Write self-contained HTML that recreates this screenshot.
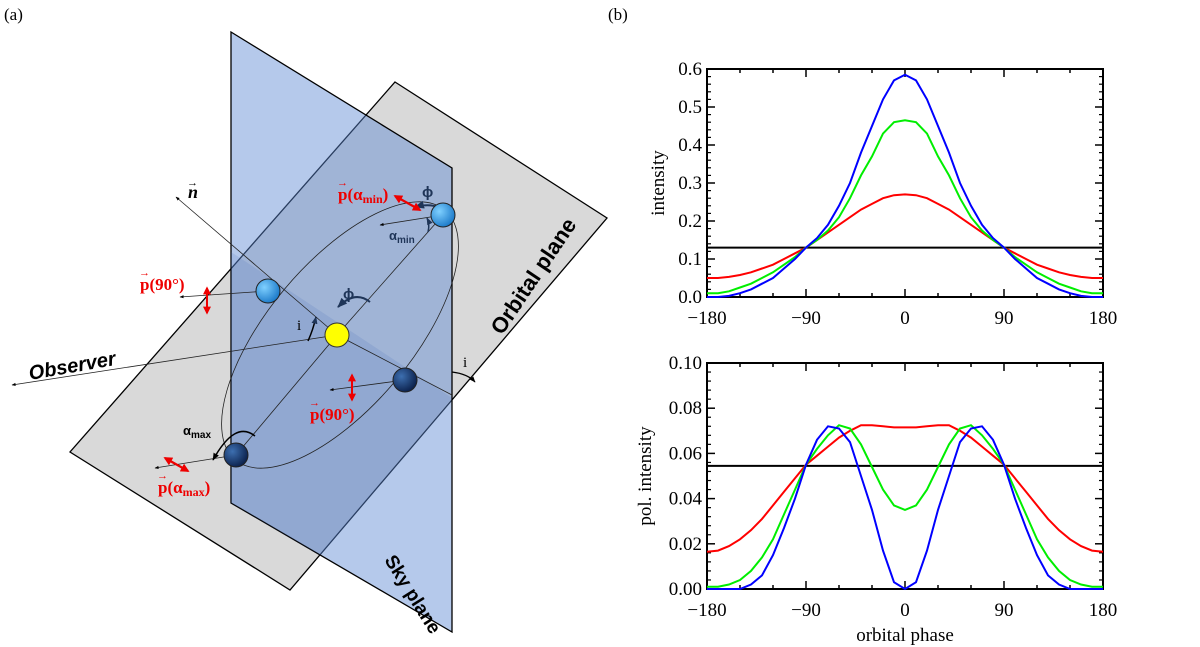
<!DOCTYPE html>
<html><head><meta charset="utf-8">
<style>
body{margin:0;background:#fff;}
svg{display:block;font-family:"Liberation Serif",serif;}
.tk{font-family:"Liberation Serif",serif;font-size:19px;fill:#000;}
</style></head>
<body>
<svg id="root" width="1200" height="647" viewBox="0 0 1200 647">
<defs>
<marker id="ah" viewBox="0 0 10 10" refX="9" refY="5" markerWidth="5" markerHeight="5" orient="auto-start-reverse"><path d="M0,1 L10,5 L0,9 z" fill="#000"/></marker>
<marker id="ahn" viewBox="0 0 10 10" refX="9" refY="5" markerWidth="5" markerHeight="5" orient="auto-start-reverse"><path d="M0,1 L10,5 L0,9 z" fill="#1f3558"/></marker>
<marker id="ahr" viewBox="0 0 10 10" refX="8" refY="5" markerWidth="4" markerHeight="4" orient="auto-start-reverse"><path d="M0,0 L10,5 L0,10 z" fill="#e00"/></marker>
<radialGradient id="lb" cx="0.35" cy="0.35" r="0.7"><stop offset="0" stop-color="#7fd0ff"/><stop offset="1" stop-color="#1a78c8"/></radialGradient>
<radialGradient id="db" cx="0.35" cy="0.35" r="0.7"><stop offset="0" stop-color="#3d6fb0"/><stop offset="1" stop-color="#0a1f4a"/></radialGradient>
</defs>
<text x="4" y="20" font-size="17">(a)</text>
<text x="608" y="20" font-size="17">(b)</text>
<g>
<polygon points="395,82 607,218 290,590 70,452" fill="#d9d9d9" stroke="#000" stroke-width="1.3"/>
<polygon points="231,32 452,168 452,632 231,503" fill="rgba(90,135,210,0.45)" stroke="#000" stroke-width="1.3"/>
<polygon points="231,252 452,398 320,555 231,503" fill="rgba(60,100,180,0.15)"/>
<ellipse cx="340" cy="335" rx="163" ry="72" transform="rotate(-50 340 335)" fill="none" stroke="#222" stroke-width="0.8"/>
<line x1="337" y1="335" x2="176" y2="197" stroke="#222" stroke-width="0.8" marker-end="url(#ah)"/>
<line x1="337" y1="335" x2="452" y2="395" stroke="#222" stroke-width="0.8"/>
<line x1="337" y1="335" x2="443" y2="215" stroke="#222" stroke-width="0.8"/>
<line x1="337" y1="335" x2="236" y2="455" stroke="#222" stroke-width="0.8"/>
<line x1="337" y1="335" x2="12" y2="385" stroke="#222" stroke-width="0.8" marker-end="url(#ah)"/>
<line x1="268" y1="291" x2="180" y2="297" stroke="#222" stroke-width="0.8" marker-end="url(#ah)"/>
<line x1="405" y1="380" x2="330" y2="390" stroke="#222" stroke-width="0.8" marker-end="url(#ah)"/>
<line x1="236" y1="455" x2="155" y2="468" stroke="#222" stroke-width="0.8" marker-end="url(#ah)"/>
<line x1="443" y1="215" x2="380" y2="225" stroke="#222" stroke-width="0.8" marker-end="url(#ah)"/>
<path d="M440,208 Q430,203 415,207" fill="none" stroke="#1f3558" stroke-width="2" marker-end="url(#ahn)"/>
<path d="M428,232 Q430,224 427,218" fill="none" stroke="#1f3558" stroke-width="1.5" marker-end="url(#ahn)"/>
<path d="M370,302 Q355,290 338,307" fill="none" stroke="#1f3558" stroke-width="2" marker-end="url(#ahn)"/>
<path d="M308,341 Q313,330 316,317" fill="none" stroke="#000" stroke-width="1.5" marker-end="url(#ahn)"/>
<path d="M255,436 Q235,420 213,460" fill="none" stroke="#000" stroke-width="1.5" marker-end="url(#ah)"/>
<path d="M452,372 Q468,374 475,382" fill="none" stroke="#000" stroke-width="1.2" marker-end="url(#ah)"/>
<line x1="395" y1="196" x2="420" y2="210" stroke="#e00" stroke-width="2.2" marker-start="url(#ahr)" marker-end="url(#ahr)"/>
<line x1="207" y1="288" x2="207" y2="313" stroke="#e00" stroke-width="2" marker-start="url(#ahr)" marker-end="url(#ahr)"/>
<line x1="352" y1="375" x2="352" y2="400" stroke="#e00" stroke-width="2" marker-start="url(#ahr)" marker-end="url(#ahr)"/>
<line x1="165" y1="458" x2="188" y2="471" stroke="#e00" stroke-width="2.2" marker-start="url(#ahr)" marker-end="url(#ahr)"/>
<circle cx="337" cy="335" r="12" fill="#ffff00" stroke="#333"/>
<circle cx="443" cy="215" r="12" fill="url(#lb)" stroke="#222"/>
<circle cx="268" cy="291" r="12" fill="url(#lb)" stroke="#222"/>
<circle cx="405" cy="380" r="12" fill="url(#db)" stroke="#222"/>
<circle cx="236" cy="455" r="12" fill="url(#db)" stroke="#222"/>
<g font-weight="bold" font-size="17" fill="#e00">
<text x="338" y="200">p(α<tspan font-size="12" dy="3">min</tspan><tspan dy="-3">)</tspan></text>
<text x="337" y="186" font-size="11">→</text>
<text x="140" y="290">p(90°)</text>
<text x="139" y="276" font-size="11">→</text>
<text x="310" y="420">p(90°)</text>
<text x="309" y="406" font-size="11">→</text>
<text x="158" y="493">p(α<tspan font-size="12" dy="3">max</tspan><tspan dy="-3">)</tspan></text>
<text x="157" y="479" font-size="11">→</text>
</g>
<g font-family="Liberation Sans,sans-serif" font-weight="bold" fill="#1f3558" font-size="15">
<text x="422" y="197">ϕ</text><text x="343" y="299">ϕ</text>
<text x="389" y="240" font-size="13">α<tspan font-size="10" dy="3">min</tspan></text>
</g>
<text x="183" y="435" font-size="13" font-family="Liberation Sans,sans-serif" font-weight="bold">α<tspan font-size="10" dy="3">max</tspan></text>
<text x="297" y="330" font-size="15">i</text><text x="463" y="367" font-size="15">i</text>
<text x="188" y="198" font-size="18" font-weight="bold" font-style="italic">n</text>
<text x="187" y="186" font-size="11">→</text>
<text x="30" y="380" font-family="Liberation Sans,sans-serif" font-weight="bold" font-style="italic" font-size="20" transform="rotate(-10 30 380)">Observer</text>
<text x="502" y="336" font-family="Liberation Sans,sans-serif" font-weight="bold" font-size="22" transform="rotate(-56 502 336)">Orbital plane</text>
<text x="384" y="560" font-family="Liberation Sans,sans-serif" font-weight="bold" font-size="19" transform="rotate(58 384 560)">Sky plane</text>
</g>
<g id="charts"></g>
</svg>
<script>
const phases=[-180,-170,-160,-150,-140,-130,-120,-110,-100,-90,-80,-70,-60,-50,-40,-30,-20,-10,0,10,20,30,40,50,60,70,80,90,100,110,120,130,140,150,160,170,180];
const intBlueHalf=[0.585,0.57,0.52,0.45,0.38,0.30,0.24,0.19,0.155,0.13,0.10,0.075,0.05,0.035,0.02,0.01,0.003,0,0];
const intGreenHalf=[0.465,0.46,0.43,0.37,0.32,0.26,0.21,0.175,0.15,0.13,0.105,0.085,0.065,0.05,0.035,0.025,0.015,0.01,0.01];
const intRedHalf=[0.27,0.268,0.26,0.245,0.23,0.21,0.19,0.17,0.15,0.13,0.115,0.10,0.085,0.075,0.065,0.058,0.053,0.05,0.05];
const polBlueHalf=[0,0.003,0.017,0.035,0.05,0.065,0.071,0.072,0.066,0.055,0.04,0.027,0.015,0.006,0.002,0,0,0,0];
const polGreenHalf=[0.035,0.037,0.044,0.054,0.064,0.071,0.0725,0.068,0.062,0.055,0.044,0.033,0.022,0.014,0.008,0.004,0.002,0.001,0.001];
const polRedHalf=[0.0715,0.0715,0.072,0.0725,0.0725,0.07,0.067,0.063,0.059,0.055,0.049,0.043,0.037,0.031,0.026,0.022,0.019,0.017,0.0165];
const intMean=[0.13];
const polMean=[0.0545];
const xTicks=[-180,-90,0,90,180];
const intTicks=[0,0.1,0.2,0.3,0.4,0.5,0.6];
const intTickLabels=["0.0","0.1","0.2","0.3","0.4","0.5","0.6"];
const polTicks=[0,0.02,0.04,0.06,0.08,0.10];
const polTickLabels=["0.00","0.02","0.04","0.06","0.08","0.10"];

function full(h){return h.slice().reverse().concat(h.slice(1));}
const NS="http://www.w3.org/2000/svg";
const g=document.getElementById('charts');
function el(t,a,p){const e=document.createElementNS(NS,t);for(const k in a)e.setAttribute(k,a[k]);(p||g).appendChild(e);return e;}
function panel(name,top,bot,ymax,ticks,labels,series,mean,ylabel,xtitle){
  const L=707,R=1103;
  const X=v=>L+(v+180)/360*(R-L);
  const Y=v=>bot-v/ymax*(bot-top);
  const pg=el('g',{});
  
  
  const box=el('rect',{x:L,y:top,width:R-L,height:bot-top,fill:'none',stroke:'#000','stroke-width':2},pg);
  
  
  for(let v=-180;v<=180;v+=30){const mj=v%90===0;const x=X(v);
    el('line',{x1:x,y1:bot,x2:x,y2:bot-(mj?8:4),stroke:'#000','stroke-width':1.5},pg);
    el('line',{x1:x,y1:top,x2:x,y2:top+(mj?8:4),stroke:'#000','stroke-width':1.5},pg);}
  xTicks.forEach(v=>{const t=el('text',{x:X(v),y:bot+27,'text-anchor':'middle',class:'tk'},pg);t.textContent=v<0?'\u2212'+(-v):String(v);
    
    });
  const step=ticks[1]-ticks[0];
  for(let i=0;i<ticks.length;i++){const y=Y(ticks[i]);
    el('line',{x1:L,y1:y,x2:L+8,y2:y,stroke:'#000','stroke-width':1.5},pg);
    el('line',{x1:R,y1:y,x2:R-8,y2:y,stroke:'#000','stroke-width':1.5},pg);
    for(let k=1;k<5&&i<ticks.length-1;k++){const ym=Y(ticks[i]+step*k/5);
      el('line',{x1:L,y1:ym,x2:L+4,y2:ym,stroke:'#000','stroke-width':1.2},pg);
      el('line',{x1:R,y1:ym,x2:R-4,y2:ym,stroke:'#000','stroke-width':1.2},pg);}
    const t=el('text',{x:L-5,y:y+6,'text-anchor':'end',class:'tk'},pg);t.textContent=labels[i];
    
    }
  const yl=el('text',{x:0,y:0,'text-anchor':'middle',class:'tk',transform:`translate(${name==='intensity-chart'?664:651},${(top+bot)/2}) rotate(-90)`},pg);
  yl.textContent=ylabel;
  
  
  if(xtitle){const xt=el('text',{x:(L+R)/2,y:bot+52,'text-anchor':'middle',class:'tk'},pg);xt.textContent=xtitle;
    
    }
  const ml=el('line',{x1:L,y1:Y(mean[0]),x2:R,y2:Y(mean[0]),stroke:'#000','stroke-width':2},pg);
  
  
  series.forEach(s=>{const vals=full(s.h);
    const d=phases.map((p,i)=>(i?'L':'M')+X(p).toFixed(1)+','+Y(vals[i]).toFixed(1)).join(' ');
    const pth=el('path',{d:d,fill:'none',stroke:s.c,'stroke-width':2},pg);
    
    });
}
panel('intensity-chart',69,297,0.6,intTicks,intTickLabels,[{h:intRedHalf,c:'#ff0000',n:'intensity-red'},{h:intGreenHalf,c:'#00ee00',n:'intensity-green'},{h:intBlueHalf,c:'#0000ff',n:'intensity-blue'}],intMean,'intensity',null);
panel('pol-intensity-chart',363,589,0.10,polTicks,polTickLabels,[{h:polRedHalf,c:'#ff0000',n:'pol-red'},{h:polGreenHalf,c:'#00ee00',n:'pol-green'},{h:polBlueHalf,c:'#0000ff',n:'pol-blue'}],polMean,'pol. intensity','orbital phase');
</script>
</body></html>
